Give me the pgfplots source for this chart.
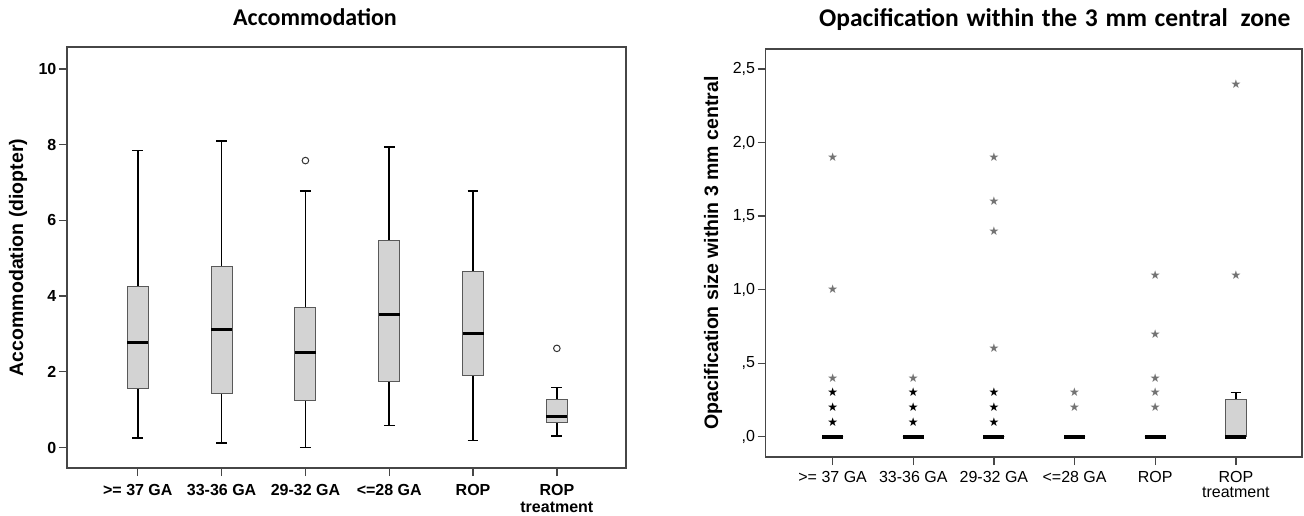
\documentclass[border=0pt]{standalone}
\usepackage{pgfplots}
\pgfplotsset{compat=1.18}
\usepgfplotslibrary{statistics}
\usepackage{fontspec}
\setmainfont{Liberation Sans}
\newfontfamily\symfont{DejaVu Sans}
\newfontfamily\titlefont{Carlito}

\definecolor{boxfill}{RGB}{211,211,211}
\definecolor{frame}{RGB}{70,70,70}

\pgfplotsset{
  spss/.style={
    scale only axis,
    axis line style={frame, line width=1.5pt},
    tick style={frame, line width=1.3pt},
    tick align=outside,
    major tick length=8pt,
    xtick pos=bottom, ytick pos=left,
    xtick={1,...,6},
    xticklabels={{>= 37 GA},{33-36 GA},{29-32 GA},{<=28 GA},{ROP},{ROP\\treatment}},
    x tick label style={align=center, anchor=north, inner sep=0pt},
    y tick label style={anchor=east, inner sep=0pt, xshift=-2.5pt},
    boxplot/draw direction=y,
    boxplot/every box/.style={draw=black!65, line width=1pt, fill=boxfill},
    boxplot/every whisker/.style={black, line width=1.5pt},
    boxplot/every median/.style={black, line width=3pt},
    boxplot/box extend=0.25,
    boxplot/whisker extend=0.13,
    title style={font=\titlefont\bfseries\fontsize{24}{26}\selectfont, anchor=base},
    ylabel style={font=\bfseries\fontsize{19.5}{21}\selectfont, anchor=center},
  },
  lightstar/.style={only marks, mark=text,
    text mark={\textcolor{black!55}{\symfont\fontsize{12}{12}\selectfont ★}}},
  darkstar/.style={only marks, mark=text,
    text mark={\textcolor{black}{\symfont\fontsize{12}{12}\selectfont ★}}},
}

\begin{document}
\begin{tikzpicture}

% ---------- left: accommodation ----------
\begin{axis}[
  spss,
  at={(67pt,47pt)}, anchor=south west,
  width=559pt, height=421pt,
  xmin=0.155, xmax=6.825,
  ymin=-0.54, ymax=10.58,
  ytick={0,2,4,6,8,10},
  yticklabels={0,2,4,6,8,10},
  x tick label style={font=\bfseries\fontsize{16}{17}\selectfont, yshift=-8pt},
  y tick label style={font=\bfseries\fontsize{16}{17}\selectfont},
  title={Accommodation},
  title style={at={(axis description cs:0.4437,1)}, yshift=15pt},
  ylabel={Accommodation (diopter)},
  ylabel style={at={(axis description cs:-0.0877,0.5)}},
]
\addplot[boxplot prepared={draw position=1, lower whisker=0.25, lower quartile=1.56,
  median=2.78, upper quartile=4.25, upper whisker=7.85}] coordinates {};
\addplot[boxplot prepared={draw position=2, lower whisker=0.12, lower quartile=1.43,
  median=3.12, upper quartile=4.77, upper whisker=8.10}] coordinates {};
\addplot[boxplot prepared={draw position=3, lower whisker=0.0, lower quartile=1.24,
  median=2.50, upper quartile=3.69, upper whisker=6.78}] coordinates {};
\addplot[boxplot prepared={draw position=4, lower whisker=0.58, lower quartile=1.74,
  median=3.51, upper quartile=5.46, upper whisker=7.94}] coordinates {};
\addplot[boxplot prepared={draw position=5, lower whisker=0.18, lower quartile=1.91,
  median=3.01, upper quartile=4.65, upper whisker=6.78}] coordinates {};
\addplot[boxplot prepared={draw position=6, lower whisker=0.30, lower quartile=0.65,
  median=0.83, upper quartile=1.27, upper whisker=1.59}] coordinates {};
% outliers
\addplot[only marks, mark=o, mark size=3.3pt, mark options={line width=1pt, draw=black!80}]
  coordinates {(3,7.58) (6,2.62)};
\end{axis}

% ---------- right: opacification ----------
\begin{axis}[
  spss,
  at={(765.7pt,58pt)}, anchor=south west,
  width=536.3pt, height=408pt,
  xmin=0.17, xmax=6.82,
  ymin=-0.138, ymax=2.636,
  ytick={0,0.5,1,1.5,2,2.5},
  yticklabels={{,0},{,5},{1,0},{1,5},{2,0},{2,5}},
  boxplot/box extend=0.26,
  boxplot/every median/.style={black, line width=4pt},
  x tick label style={font=\fontsize{16}{15}\selectfont, yshift=-6pt},
  y tick label style={font=\fontsize{16}{17}\selectfont},
  title={Opacification\hspace{.3em}within\hspace{.3em}the\hspace{.3em}3\hspace{.3em}mm\hspace{.3em}central\hspace{.5em}zone},
  title style={font=\titlefont\bfseries\fontsize{25.5}{27}\selectfont,
    at={(axis description cs:0.539,1)}, yshift=17pt},
  ylabel={Opacification size within 3 mm central},
  ylabel style={at={(axis description cs:-0.0983,0.5)}},
]
\addplot[boxplot prepared={draw position=1, lower whisker=0, lower quartile=0,
  median=0, upper quartile=0, upper whisker=0}] coordinates {};
\addplot[boxplot prepared={draw position=2, lower whisker=0, lower quartile=0,
  median=0, upper quartile=0, upper whisker=0}] coordinates {};
\addplot[boxplot prepared={draw position=3, lower whisker=0, lower quartile=0,
  median=0, upper quartile=0, upper whisker=0}] coordinates {};
\addplot[boxplot prepared={draw position=4, lower whisker=0, lower quartile=0,
  median=0, upper quartile=0, upper whisker=0}] coordinates {};
\addplot[boxplot prepared={draw position=5, lower whisker=0, lower quartile=0,
  median=0, upper quartile=0, upper whisker=0}] coordinates {};
\addplot[boxplot prepared={draw position=6, lower whisker=0, lower quartile=0,
  median=0, upper quartile=0.25, upper whisker=0.30}] coordinates {};
% extreme values
\addplot[lightstar] coordinates {
  (1,1.9) (1,1.0) (1,0.4)
  (2,0.4)
  (3,1.9) (3,1.6) (3,1.4) (3,0.6)
  (4,0.3) (4,0.2)
  (5,1.1) (5,0.7) (5,0.4) (5,0.3) (5,0.2)
  (6,2.4) (6,1.1)
};
\addplot[darkstar] coordinates {
  (1,0.3) (1,0.2) (1,0.1)
  (2,0.3) (2,0.2) (2,0.1)
  (3,0.3) (3,0.2) (3,0.1)
};
\end{axis}

\pgfresetboundingbox
\path[use as bounding box] (0pt,0pt) rectangle (1304pt,515pt);
\end{tikzpicture}
\end{document}
